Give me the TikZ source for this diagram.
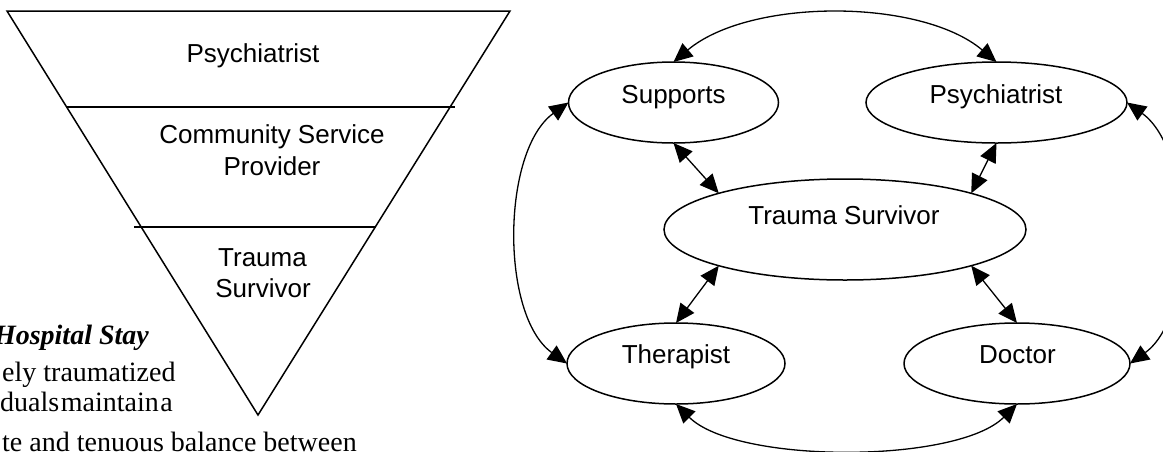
\documentclass[tikz,border=0pt]{standalone}
\usepackage{fontspec}
\setmainfont{Liberation Serif}
\newfontfamily\arialf{Liberation Sans}
\usetikzlibrary{arrows.meta,shapes.geometric}
\begin{document}
\begin{tikzpicture}[x=1pt,y=-1pt,
  ell/.style={draw, ellipse, line width=1.5pt, inner sep=0pt, outer sep=0pt},
  lbl/.style={anchor=base, inner sep=0pt, font=\arialf\fontsize{26}{30}\selectfont},
  ser/.style={inner sep=0pt, font=\fontsize{28}{32}\selectfont},
  tipstyle/.style={line width=1.3pt, {Triangle[length=19pt,width=17pt]}-{Triangle[length=19pt,width=17pt]}},
  edgeline/.style={line width=1.5pt}]
\useasboundingbox (0,0) rectangle (1163,451);
\clip (0,0) rectangle (1163,451);

% inverted triangle
\draw[edgeline, line join=miter] (7,11) -- (510,11) -- (258,415) -- cycle;
\draw[edgeline] (67,107) -- (455,107);
\draw[edgeline] (134,227) -- (376,227);
\node[lbl] (tp) at (253,62) {Psychiatrist};
\node[lbl] (tc1) at (272,143) {Community Service};
\node[lbl] (tc2) at (272,175) {Provider};
\node[lbl] (tt1) at (262.5,266) {Trauma};
\node[lbl] (tt2) at (263,297) {Survivor};

% clipped body text
\node[ser, anchor=base east, font=\bfseries\itshape\fontsize{28}{32}\selectfont] (hs) at (149,344) {Hospital Stay};
\node[ser, anchor=base west] (l2) at (2,381) {ely traumatized};
\node[ser, anchor=base west] (l3) at (0,411) {{\spaceskip=1.5pt duals maintain a}};
\node[ser, anchor=base west] (l4) at (2,451) {te and tenuous balance between};

% network
\node[ell, minimum width=210pt, minimum height=81pt] (sup) at (673.5,102.5) {};
\node[ell, minimum width=261pt, minimum height=81pt] (psy) at (996.5,102.5) {};
\node[ell, minimum width=362pt, minimum height=101pt] (ts) at (845,229.5) {};
\node[ell, minimum width=218pt, minimum height=81pt] (ther) at (676,363.5) {};
\node[ell, minimum width=226pt, minimum height=81pt] (doc) at (1017,363.5) {};

\node[lbl] (supL) at (673.5,103) {Supports};
\node[lbl] (psyL) at (996,103) {Psychiatrist};
\node[lbl] (tsL) at (844,224) {Trauma Survivor};
\node[lbl] (therL) at (676,363) {Therapist};
\node[lbl] (docL) at (1017.5,363) {Doctor};

\draw[tipstyle] (sup.south) -- (ts.164);
\draw[tipstyle] (psy.south) -- (ts.16);
\draw[tipstyle] (ther.north) -- (ts.196);
\draw[tipstyle] (doc.north) -- (ts.344);

\draw[tipstyle] (sup.north) .. controls +(76,-64) and +(-76,-64) .. (psy.north);
\draw[tipstyle] (sup.west) .. controls +(-67,48) and +(-67,-48) .. (ther.west);
\draw[tipstyle] (psy.east) .. controls +(67,48) and +(67,-48) .. (doc.east);
\draw[tipstyle] (ther.south) .. controls +(60,60) and +(-60,60) .. (doc.south);
\end{tikzpicture}
\end{document}
